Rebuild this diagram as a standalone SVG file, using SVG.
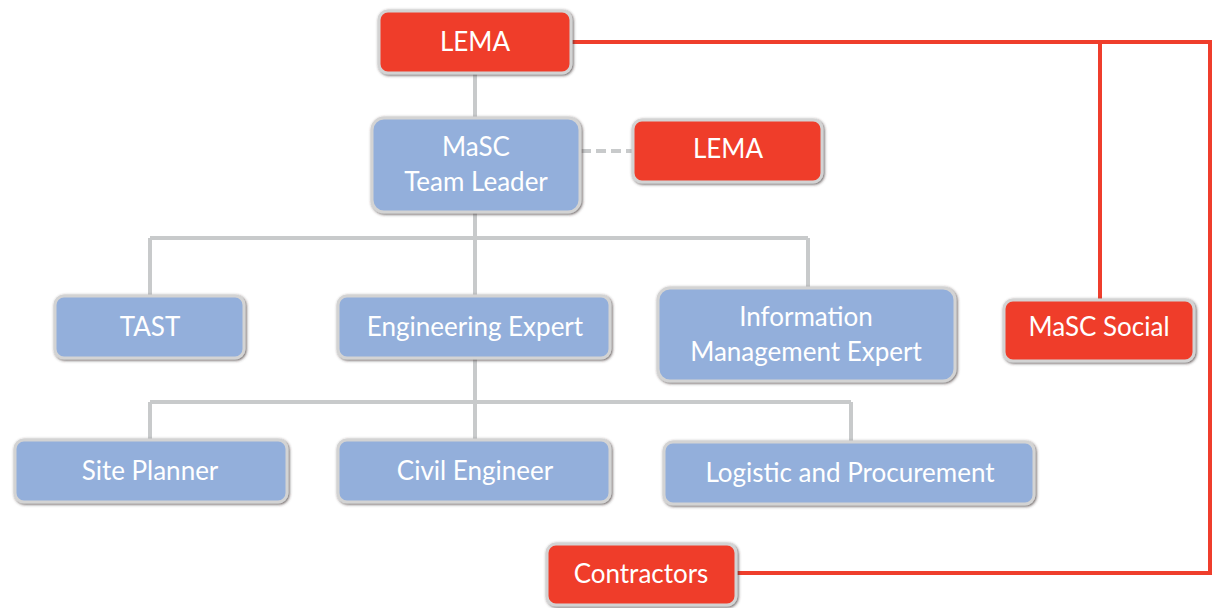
<svg xmlns="http://www.w3.org/2000/svg" width="1212" height="608" viewBox="0 0 1212 608">
<defs>
<filter id="sh" x="-10%" y="-20%" width="120%" height="140%">
<feDropShadow dx="1" dy="1" stdDeviation="1.8" flood-color="#3a3030" flood-opacity="0.8"/>
</filter>
<style>
.box{stroke:#D3D3D3;stroke-width:3;filter:url(#sh)}
.blue{fill:#93AFDB}
.red{fill:#EF3E2C}
.t{font-family:Lato,"Open Sans","Liberation Sans",sans-serif;font-size:26px;fill:#FFFFFF;text-anchor:middle;dominant-baseline:central}
.g{stroke:#C8CACB;stroke-width:4;fill:none}
.r{stroke:#EF3E2C;stroke-width:4;fill:none}
</style>
</defs>
<rect width="1212" height="608" fill="#FFFFFF"/>
<g id="connectors">
<path class="g" d="M475 73V118"/>
<path class="g" d="M581 151H632" stroke-dasharray="10 5"/>
<path class="g" d="M475 212V238M150 238H808M150 238V296M475 238V296M808 238V288"/>
<path class="g" d="M475 358V402M150 402H851M150 402V440M475 402V440M851 402V442"/>
<path class="r" d="M570 42H1210V573H737"/>
<path class="r" d="M1100 42V300"/>
</g>
<g id="lema-top"><rect class="box red" x="379" y="11" width="192" height="62" rx="9"/><text class="t" x="475" y="41">LEMA</text></g>
<g id="masc-team-leader"><rect class="box blue" x="372" y="118" width="208" height="94" rx="12"/><text class="t" x="476" y="146">MaSC</text><text class="t" x="476" y="181">Team Leader</text></g>
<g id="lema-side"><rect class="box red" x="633" y="120" width="189" height="62" rx="9"/><text class="t" x="728" y="148">LEMA</text></g>
<g id="tast"><rect class="box blue" x="55" y="296" width="189" height="62" rx="9"/><text class="t" x="150" y="326">TAST</text></g>
<g id="engineering-expert"><rect class="box blue" x="338" y="296" width="272" height="62" rx="9"/><text class="t" x="475" y="326">Engineering Expert</text></g>
<g id="information-management-expert"><rect class="box blue" x="658" y="288" width="297" height="93" rx="12"/><text class="t" x="806" y="316">Information</text><text class="t" x="806" y="351">Management Expert</text></g>
<g id="masc-social"><rect class="box red" x="1004" y="300" width="190" height="61" rx="9"/><text class="t" x="1099" y="326">MaSC Social</text></g>
<g id="site-planner"><rect class="box blue" x="15" y="440" width="272" height="62" rx="9"/><text class="t" x="150" y="470">Site Planner</text></g>
<g id="civil-engineer"><rect class="box blue" x="338" y="440" width="272" height="62" rx="9"/><text class="t" x="475" y="470">Civil Engineer</text></g>
<g id="logistic-and-procurement"><rect class="box blue" x="664" y="442" width="370" height="62" rx="9"/><text class="t" x="850" y="472">Logistic and Procurement</text></g>
<g id="contractors"><rect class="box red" x="547" y="544" width="189" height="61" rx="9"/><text class="t" x="641" y="573">Contractors</text></g>
</svg>
